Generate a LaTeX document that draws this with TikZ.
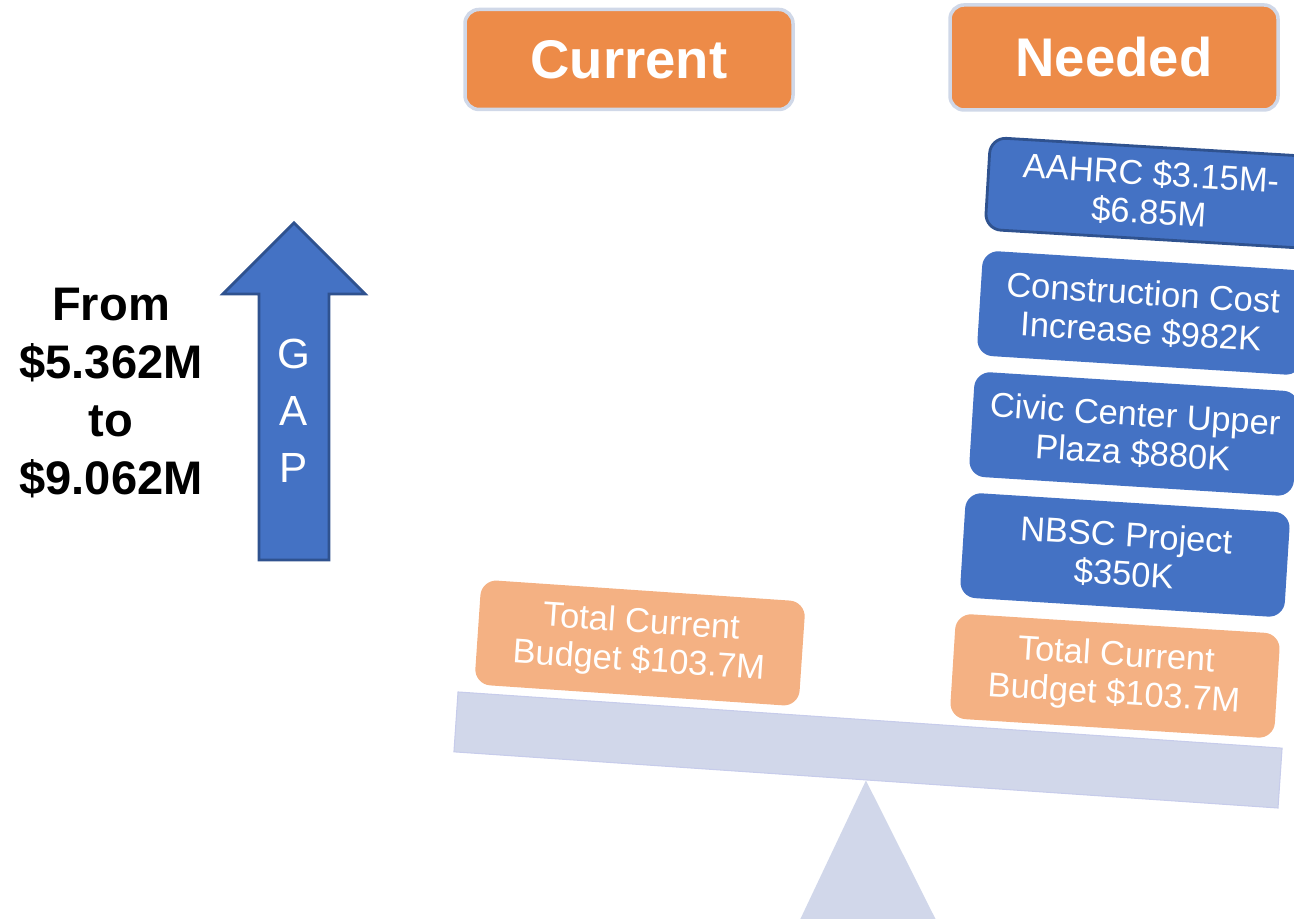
\documentclass[tikz,border=0pt]{standalone}
\usepackage{fontspec}
\setmainfont{Liberation Sans}
\usepackage{xcolor}
\definecolor{header}{RGB}{237,139,72}
\definecolor{headerrim}{RGB}{208,216,232}
\definecolor{budget}{RGB}{244,177,131}
\definecolor{item}{RGB}{68,114,196}
\definecolor{itemrim}{RGB}{47,82,143}
\definecolor{plank}{RGB}{209,215,234}
\tikzset{
  headbox/.style={fill=header, draw=headerrim, line width=1pt, rounded corners=4pt,
    minimum width=3.28cm, minimum height=1cm, inner sep=0pt, text=white,
    font=\fontsize{15.5pt}{18pt}\selectfont\bfseries},
  costbox/.style={fill=item, rounded corners=4.5pt, minimum width=3.25cm,
    minimum height=1.05cm, inner sep=0pt, text=white, align=center,
    font=\fontsize{9.8pt}{11pt}\selectfont, rotate=-3.6},
  budgetbox/.style={costbox, fill=budget},
}

\begin{document}
\begin{tikzpicture}
	% frame of the page
	\clip (0,0) rectangle (12.94,9.19);
	% fulcrum and beam
	\node[fill=plank, draw=plank!95!blue, line width=0.3pt, minimum width=8.26cm,
	  minimum height=0.6cm, inner sep=0pt, rotate=-3.9] (beam) at (8.68,1.69) {};
	\fill[plank] (beam.south) -- (7.98,-0.05) -- (9.38,-0.05) -- cycle;

	% column headers
	\node[headbox] (current) at (6.29,8.595) {Current};
	\node[headbox, minimum height=1.05cm] (needed) at (11.14,8.615) {Needed};

	% current side
	\node[budgetbox, rotate=-0.3] (budgetL) at (6.40,2.76) {Total Current\\Budget \$103.7M};

	% needed side
	\node[budgetbox] (budgetR) at (11.15,2.43) {Total Current\\Budget \$103.7M};
	\node[costbox] (nbsc) at (11.25,3.64) {NBSC Project\\\$350K};
	\node[costbox] (civic) at (11.34,4.85) {Civic Center Upper\\Plaza \$880K};
	\node[costbox] (construction) at (11.42,6.06) {Construction Cost\\Increase \$982K};
	\node[costbox, draw=itemrim, line width=0.8pt, minimum height=0.92cm,
	  rotate=0.2] (aahrc) at (11.50,7.26) {AAHRC \$3.15M-\\\$6.85M};

	% gap arrow
	\draw[fill=item, draw=itemrim, line width=0.8pt] (2.59,3.59) -- (2.59,6.25) -- (2.23,6.25)
	  -- (2.94,6.96) -- (3.65,6.25) -- (3.29,6.25) -- (3.29,3.59) -- cycle;
	\node[text=white, align=center, inner sep=0pt,
	  font=\fontsize{12pt}{16.2pt}\selectfont] (gap) at (2.94,5.08) {G\\A\\P};

	% range of the gap
	\node[align=center, inner sep=0pt, font=\fontsize{13.4pt}{16.5pt}\selectfont\bfseries]
	  (range) at (1.11,5.255) {From\\\$5.362M\\to\\\$9.062M};
\end{tikzpicture}
\end{document}
